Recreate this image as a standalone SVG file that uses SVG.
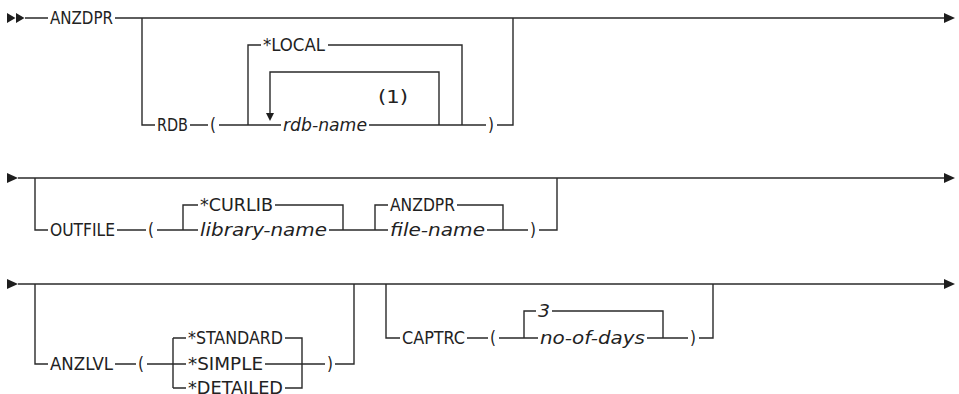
<svg xmlns="http://www.w3.org/2000/svg" width="959" height="394" viewBox="0 0 959 394">
<style>
.ln{fill:none;stroke:#2a2a2a;stroke-width:1.4}
.ah{fill:#1e1e1e;stroke:none}
text{font-family:"DejaVu Sans","Liberation Sans",sans-serif;font-stretch:condensed;font-size:17px;fill:#222}
.it{font-style:italic}
</style>
<rect width="959" height="394" fill="#ffffff"/>
<g id="connectors">
<path class="ah" d="M7 13 L15.5 18 L7 23 Z M16 13 L24.5 18 L16 23 Z"/>
<path class="ln" d="M25 18 H48 M115 18 H945"/>
<path class="ah" d="M944 13 L955 18 L944 23 Z"/>
<path class="ln" d="M142 18 V125 H155 M190 125 H208 M219 125 H281 M248 125 V45 H261 M328 45 H462 V125 M439 125 V72 H270 V113 M369 125 H486 M497 125 H513 V18"/>
<path class="ah" d="M266 113 L274 113 L270 121 Z"/>
<path class="ah" d="M7 173 L18 178 L7 183 Z"/>
<path class="ln" d="M18 178 H945"/>
<path class="ah" d="M944 173 L955 178 L944 183 Z"/>
<path class="ln" d="M35 178 V230 H48 M117 230 H146 M157 230 H198 M183 230 V205 H198 M275 205 H343 V230 M329 230 H388 M375 230 V205 H388 M457 205 H503 V230 M487 230 H528 M539 230 H557 V178"/>
<path class="ah" d="M7 279 L18 284 L7 289 Z"/>
<path class="ln" d="M18 284 H945"/>
<path class="ah" d="M944 279 L955 284 L944 289 Z"/>
<path class="ln" d="M35 284 V364 H48 M115 364 H136 M147 364 H186 M173 338 V388 M173 338 H186 M173 388 H186 M285 338 H302 V388 H285 M265 364 H325 M335 364 H354 V284"/>
<path class="ln" d="M386 284 V338 H400 M467 338 H488 M499 338 H538 M524 338 V311 H536 M552 311 H663 V338 M647 338 H688 M699 338 H713 V284"/>
</g>
<g id="n-anzdpr"><text x="50" y="24" textLength="63" lengthAdjust="spacingAndGlyphs">ANZDPR</text></g>
<g id="n-rdb"><text x="157" y="131" textLength="31" lengthAdjust="spacingAndGlyphs">RDB</text></g>
<g id="n-rdb-lp"><text x="210" y="131">(</text></g>
<g id="n-local"><text x="263" y="51" textLength="62" lengthAdjust="spacingAndGlyphs">*LOCAL</text></g>
<g id="n-rdbname"><text class="it" x="283" y="131" textLength="84" lengthAdjust="spacingAndGlyphs">rdb-name</text></g>
<g id="n-note1"><text x="378" y="103" textLength="30" lengthAdjust="spacingAndGlyphs">(1)</text></g>
<g id="n-rdb-rp"><text x="488" y="131">)</text></g>
<g id="n-outfile"><text x="50" y="236" textLength="65" lengthAdjust="spacingAndGlyphs">OUTFILE</text></g>
<g id="n-out-lp"><text x="148" y="236">(</text></g>
<g id="n-curlib"><text x="200" y="211" textLength="73" lengthAdjust="spacingAndGlyphs">*CURLIB</text></g>
<g id="n-libname"><text class="it" x="200" y="236" textLength="127" lengthAdjust="spacingAndGlyphs">library-name</text></g>
<g id="n-anzdpr2"><text x="390" y="211" textLength="65" lengthAdjust="spacingAndGlyphs">ANZDPR</text></g>
<g id="n-filename"><text class="it" x="390" y="236" textLength="95" lengthAdjust="spacingAndGlyphs">file-name</text></g>
<g id="n-out-rp"><text x="530" y="236">)</text></g>
<g id="n-anzlvl"><text x="50" y="370" textLength="63" lengthAdjust="spacingAndGlyphs">ANZLVL</text></g>
<g id="n-lvl-lp"><text x="138" y="370">(</text></g>
<g id="n-standard"><text x="188" y="344" textLength="95" lengthAdjust="spacingAndGlyphs">*STANDARD</text></g>
<g id="n-simple"><text x="188" y="370" textLength="75" lengthAdjust="spacingAndGlyphs">*SIMPLE</text></g>
<g id="n-detailed"><text x="188" y="393.5" textLength="95" lengthAdjust="spacingAndGlyphs">*DETAILED</text></g>
<g id="n-lvl-rp"><text x="327" y="370">)</text></g>
<g id="n-captrc"><text x="402" y="344" textLength="63" lengthAdjust="spacingAndGlyphs">CAPTRC</text></g>
<g id="n-cap-lp"><text x="490" y="344">(</text></g>
<g id="n-three"><text class="it" x="538" y="317" textLength="12" lengthAdjust="spacingAndGlyphs">3</text></g>
<g id="n-nodays"><text class="it" x="540" y="344" textLength="105" lengthAdjust="spacingAndGlyphs">no-of-days</text></g>
<g id="n-cap-rp"><text x="690" y="344">)</text></g>
</svg>
